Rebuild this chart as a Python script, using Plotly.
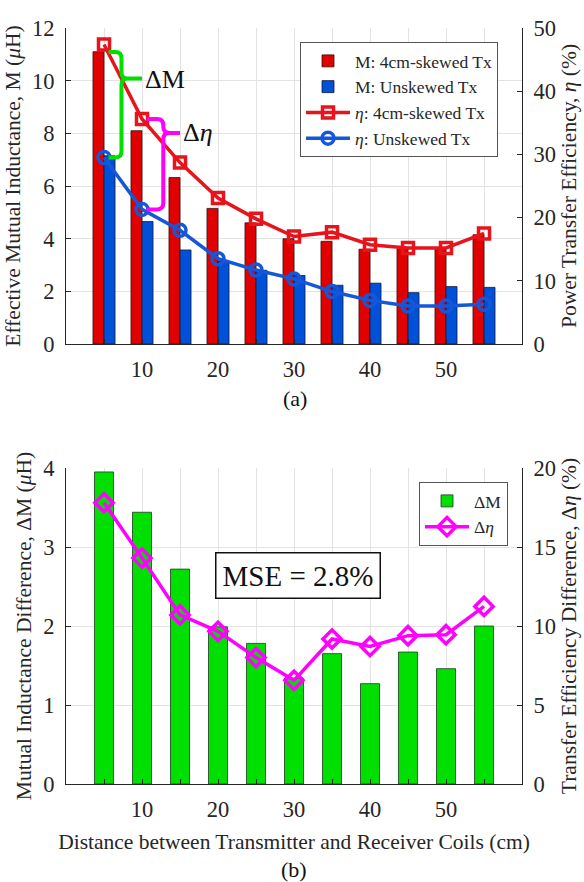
import plotly.graph_objects as go

# Distance between transmitter and receiver coils (cm)
distance = [5, 10, 15, 20, 25, 30, 35, 40, 45, 50, 55]

# Effective mutual inductance (uH)
m_skewed = [11.10, 8.10, 6.32, 5.15, 4.60, 4.00, 3.90, 3.60, 3.62, 3.64, 4.15]
m_unskewed = [7.15, 4.65, 3.57, 3.15, 2.80, 2.60, 2.23, 2.31, 1.95, 2.18, 2.15]

# Power transfer efficiency (%)
eta_skewed = [47.4, 35.6, 28.7, 23.1, 19.8, 17.0, 17.7, 15.7, 15.2, 15.2, 17.5]
eta_unskewed = [29.5, 21.3, 18.0, 13.5, 11.7, 10.3, 8.3, 6.9, 6.0, 6.0, 6.3]

# Differences between the skewed and unskewed transmitter
delta_m = [3.95, 3.44, 2.72, 1.99, 1.78, 1.34, 1.65, 1.27, 1.67, 1.46, 2.00]
delta_eta = [17.8, 14.3, 10.7, 9.66, 8.0, 6.56, 9.18, 8.7, 9.39, 9.45, 11.24]

x_ticks = [10, 20, 30, 40, 50]

FONT = "Liberation Serif, Times New Roman, serif"
AX = "#262626"
GRID = "#e3e3e3"
RED_BAR = "#e00000"
BLUE_BAR = "#0050d8"
RED_LINE = "#e8141c"
BLUE_LINE = "#1457d8"
GREEN = "#00e000"
MAGENTA = "#ff00ff"
BAR_W = 1.45

fig = go.Figure()

# ---- (a) mutual inductance bars and efficiency lines ----
fig.add_trace(go.Bar(
    x=distance, y=m_skewed, name="M: 4cm-skewed Tx", xaxis="x", yaxis="y",
    width=BAR_W, offset=-BAR_W, marker=dict(color=RED_BAR, line=dict(color="#3a1010", width=0.8)),
    legend="legend"))
fig.add_trace(go.Bar(
    x=distance, y=m_unskewed, name="M: Unskewed Tx", xaxis="x", yaxis="y",
    width=BAR_W, offset=0, marker=dict(color=BLUE_BAR, line=dict(color="#101a3a", width=0.8)),
    legend="legend"))
fig.add_trace(go.Scatter(
    x=distance, y=eta_skewed, name="<i>η</i>: 4cm-skewed Tx", xaxis="x", yaxis="y2",
    mode="lines+markers", line=dict(color=RED_LINE, width=3.5),
    marker=dict(symbol="square-open", size=11, line=dict(color=RED_LINE, width=3.5)),
    legend="legend"))
fig.add_trace(go.Scatter(
    x=distance, y=eta_unskewed, name="<i>η</i>: Unskewed Tx", xaxis="x", yaxis="y2",
    mode="lines+markers", line=dict(color=BLUE_LINE, width=3.5),
    marker=dict(symbol="circle-open", size=12, line=dict(color=BLUE_LINE, width=3.5)),
    legend="legend"))

# ---- (b) differences ----
fig.add_trace(go.Bar(
    x=distance, y=delta_m, name="ΔM", xaxis="x2", yaxis="y3",
    width=2.5, marker=dict(color=GREEN, line=dict(color="#1a3a1a", width=0.8)),
    legend="legend2"))
fig.add_trace(go.Scatter(
    x=distance, y=delta_eta, name="Δ<i>η</i>", xaxis="x2", yaxis="y4",
    mode="lines+markers", line=dict(color=MAGENTA, width=3.5),
    marker=dict(symbol="diamond-open", size=14, line=dict(color=MAGENTA, width=3.5)),
    legend="legend2"))

tick_font = dict(family=FONT, size=22.5, color=AX)
title_font = dict(family=FONT, size=21.5, color=AX)


def xaxis_style(anchor, title=None):
    d = dict(domain=[66 / 584, 522 / 584], anchor=anchor, range=[0, 60],
             tickvals=x_ticks, ticks="inside", ticklen=5, tickcolor=AX,
             showline=True, linecolor=AX, linewidth=1.2, showgrid=True,
             gridcolor=GRID, zeroline=False, tickfont=tick_font,
             ticklabelstandoff=5,
             minor=dict(dtick=5, tick0=0, ticks="inside", ticklen=5,
                        tickcolor=AX, showgrid=True, gridcolor=GRID),
             automargin=False)
    if title:
        d["title"] = dict(text=title, font=title_font, standoff=12)
    return d


def yaxis_style(domain, rng, dtick, title, side="left", overlay=None, anchor=None, grid=True):
    d = dict(range=rng, dtick=dtick, side=side, ticks="inside", ticklen=5,
             tickcolor=AX, showline=True, linecolor=AX, linewidth=1.2,
             showgrid=grid, gridcolor=GRID, zeroline=False, tickfont=tick_font,
             ticklabelstandoff=6, automargin=False,
             title=dict(text=title, font=title_font, standoff=5))
    if overlay:
        d["overlaying"] = overlay
        d["anchor"] = anchor
    else:
        d["domain"] = domain
        d["anchor"] = anchor
    return d


top_dom = [1 - 344 / 882, 1 - 28 / 882]
bot_dom = [1 - 784 / 882, 1 - 468 / 882]

legend_font = dict(family=FONT, size=17.5, color=AX)

fig.update_layout(
    width=584, height=882,
    margin=dict(l=0, r=0, t=0, b=0),
    paper_bgcolor="white", plot_bgcolor="white",
    barmode="overlay",
    font=dict(family=FONT, color=AX),
    xaxis=xaxis_style("y"),
    yaxis=yaxis_style(top_dom, [0, 12], 2, "Effective Mutual Inductance, M (<i>μ</i>H)", anchor="x"),
    yaxis2=yaxis_style(None, [0, 50], 10, "Power Transfer Efficiency, <i>η</i> (%)",
                       side="right", overlay="y", anchor="x", grid=False),
    xaxis2=xaxis_style("y3", "Distance between Transmitter and Receiver Coils (cm)"),
    yaxis3=yaxis_style(bot_dom, [0, 4], 1, "Mutual Inductance Difference, ΔM (<i>μ</i>H)", anchor="x2"),
    yaxis4=yaxis_style(None, [0, 20], 5, "Transfer Efficiency Difference, Δ<i>η</i> (%)",
                       side="right", overlay="y3", anchor="x2", grid=False),
    legend=dict(x=300 / 584, y=1 - 42 / 882, xanchor="left", yanchor="top",
                bgcolor="white", bordercolor="#555555", borderwidth=1,
                font=legend_font, itemwidth=44, tracegroupgap=0),
    legend2=dict(x=419 / 584, y=1 - 482 / 882, xanchor="left", yanchor="top",
                 bgcolor="white", bordercolor="#555555", borderwidth=1,
                 font=legend_font, itemwidth=44, tracegroupgap=0),
    showlegend=True,
)


def brace_path(x_start, x_spine, x_tip, y_top, y_mid, y_bot, rx, ry):
    """Right-pointing curly brace in data coordinates."""
    return (f"M{x_start},{y_top} L{x_spine - rx},{y_top} "
            f"Q{x_spine},{y_top} {x_spine},{y_top - ry} "
            f"L{x_spine},{y_mid + ry} Q{x_spine},{y_mid} {x_spine + rx},{y_mid} "
            f"L{x_tip},{y_mid} M{x_spine + rx},{y_mid} "
            f"Q{x_spine},{y_mid} {x_spine},{y_mid - ry} "
            f"L{x_spine},{y_bot + ry} Q{x_spine},{y_bot} {x_spine - rx},{y_bot} "
            f"L{x_start},{y_bot}")


# Braces marking the gap between the two efficiency curves
x0, x1 = distance[0], distance[1]
fig.add_shape(type="path", xref="x", yref="y2", line=dict(color=GREEN, width=4),
              path=brace_path(x0 + 0.6, x0 + 2.3, x0 + 5.0,
                              eta_skewed[0] - 1.2, 42.0, eta_unskewed[0], 0.8, 1.0))
fig.add_shape(type="path", xref="x", yref="y2", line=dict(color=MAGENTA, width=4),
              path=brace_path(x1 + 0.6, x1 + 2.8, x1 + 5.0,
                              eta_skewed[1], 33.4, eta_unskewed[1], 0.8, 1.0))
fig.add_annotation(x=x0 + 5.1, y=41.8, xref="x", yref="y2", text="ΔM", showarrow=False,
                   xanchor="left", yanchor="middle", font=dict(family=FONT, size=26, color="#111"))
fig.add_annotation(x=x1 + 5.1, y=33.4, xref="x", yref="y2", text="Δ<i>η</i>", showarrow=False,
                   xanchor="left", yanchor="middle", font=dict(family=FONT, size=26, color="#111"))

# MSE box
fig.add_annotation(x=298 / 584, y=1 - 575 / 882, xref="paper", yref="paper",
                   text="MSE = 2.8%", showarrow=False, xanchor="center", yanchor="middle",
                   font=dict(family=FONT, size=29, color="#111"),
                   bordercolor="#111", borderwidth=1.5, borderpad=6, bgcolor="white")

# Panel labels
fig.add_annotation(x=295 / 584, y=1 - 398 / 882, xref="paper", yref="paper", text="(a)",
                   showarrow=False, xanchor="center", yanchor="middle",
                   font=dict(family=FONT, size=22, color="#111"))
fig.add_annotation(x=294 / 584, y=1 - 869 / 882, xref="paper", yref="paper", text="(b)",
                   showarrow=False, xanchor="center", yanchor="middle",
                   font=dict(family=FONT, size=22, color="#111"))

fig.write_html("out.html")
